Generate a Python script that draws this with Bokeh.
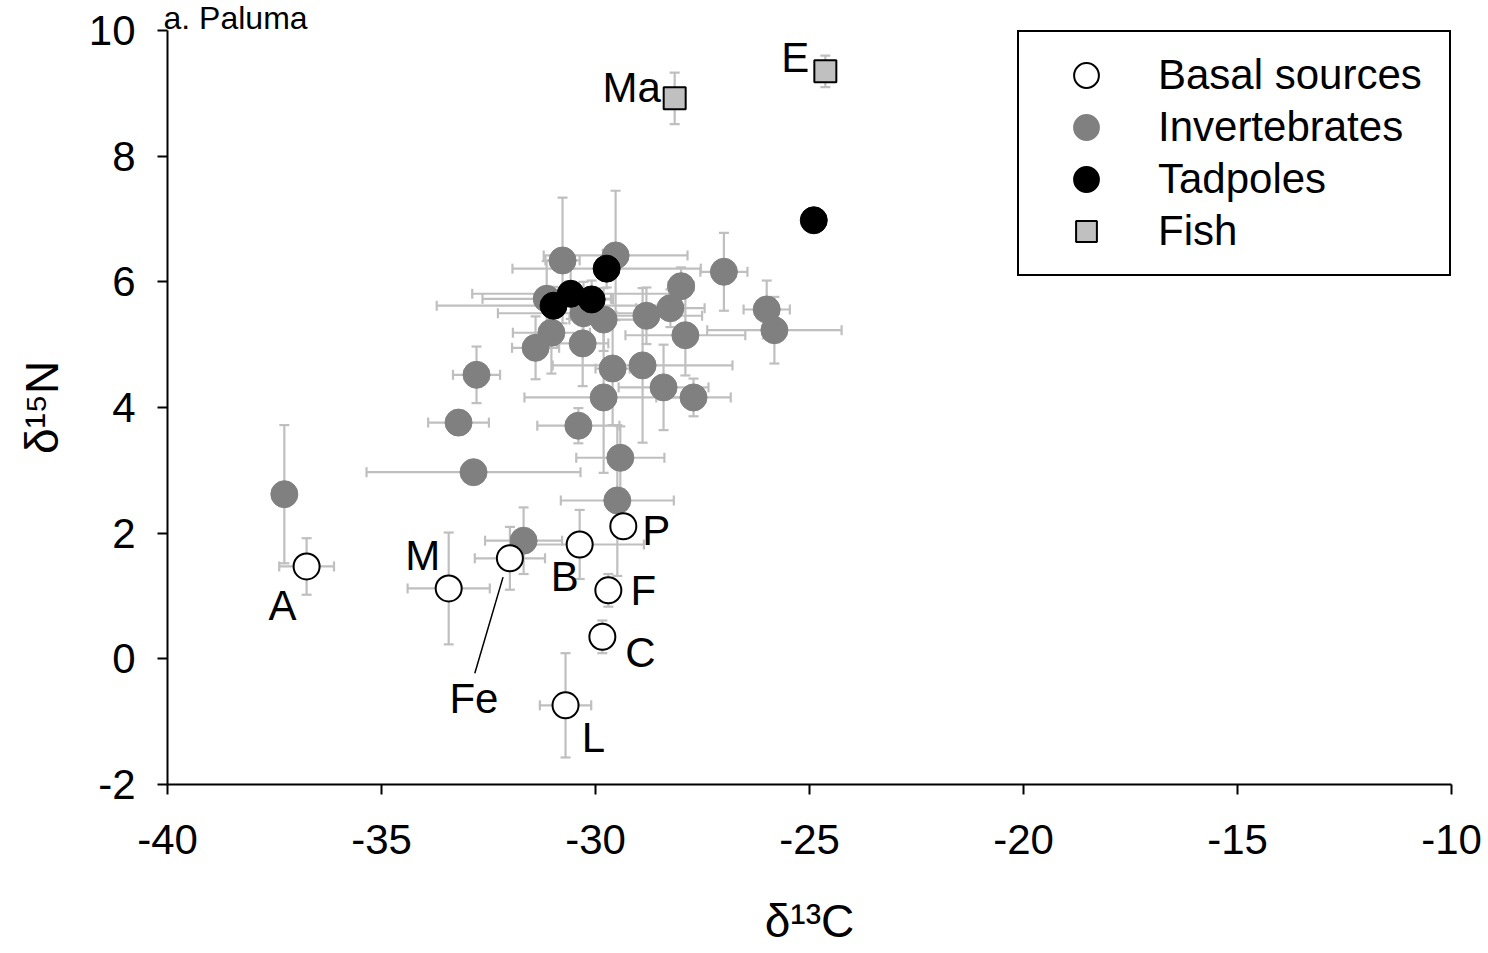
from bokeh.plotting import figure
from bokeh.models import (ColumnDataSource, Whisker, TeeHead, Legend, LegendItem,
                          Title, FixedTicker, Range1d)
from bokeh.core.properties import value
from bokeh.embed import file_html
from bokeh.resources import INLINE

# ---------------- data ----------------
basal_names = ["A", "M", "Fe", "B", "P", "F", "C", "L"]
basal_x = [-36.75, -33.43, -32.0, -30.37, -29.35, -29.7, -29.84, -30.7]
basal_y = [1.47, 1.12, 1.60, 1.82, 2.11, 1.09, 0.35, -0.74]
basal_xerr = [0.64, 0.96, 0.82, 1.5, 0.15, 0.15, 0.15, 0.6]
basal_yerr = [0.45, 0.89, 0.50, 0.55, 0.15, 0.26, 0.26, 0.83]

fish_names = ["Ma", "E"]
fish_x = [-28.15, -24.63]
fish_y = [8.92, 9.35]
fish_xerr = [0.1, 0.1]
fish_yerr = [0.41, 0.25]

tad_x = [-24.9, -29.74, -30.58, -30.98, -30.09]
tad_y = [6.98, 6.21, 5.81, 5.62, 5.72]
tad_xerr = [0.05, 2.2, 2.3, 2.73, 0.5]
tad_yerr = [0.05, 0.3, 0.4, 0.3, 0.3]

inv_x = [-37.27, -33.2, -32.78, -32.85, -31.68, -30.4, -29.42, -29.49, -31.4, -31.03,
         -30.3, -29.81, -28.81, -28.25, -27.9, -29.6, -28.9, -28.41, -27.71, -29.81,
         -30.77, -29.53, -27.0, -28.0, -26.0, -25.82, -31.14, -30.28]
inv_y = [2.62, 3.76, 4.52, 2.97, 1.88, 3.71, 3.20, 2.52, 4.95, 5.19,
         5.02, 5.40, 5.46, 5.58, 5.15, 4.62, 4.67, 4.32, 4.16, 4.16,
         6.34, 6.42, 6.16, 5.93, 5.56, 5.23, 5.73, 5.50]
inv_xerr = [0.1, 0.71, 0.55, 2.5, 0.9, 0.96, 1.03, 1.32, 0.55, 0.9,
            0.6, 0.8, 1.3, 0.8, 1.4, 0.4, 2.1, 1.05, 0.87, 1.85,
            0.4, 1.68, 0.55, 0.3, 0.54, 1.57, 1.5, 2.0]
inv_yerr = [1.1, 0.15, 0.45, 0.1, 0.53, 0.28, 0.5, 1.2, 0.5, 0.65,
            0.68, 0.5, 0.45, 0.3, 0.64, 0.9, 1.23, 0.68, 0.3, 1.2,
            1.0, 1.03, 0.62, 0.3, 0.46, 0.53, 0.6, 0.5]

x_ticks = [-40, -35, -30, -25, -20, -15, -10]
y_ticks = [-2, 0, 2, 4, 6, 8, 10]

legend_labels = ["Basal sources", "Invertebrates", "Tadpoles", "Fish"]
x_title = "δ¹³C"
y_title = "δ¹⁵N"
plot_title = "a. Paluma"

# label layout (pixel offsets of text baseline-centre from the point)
basal_label_dx = [-24, -26, -36, -15, 33, 35, 38, 28]
basal_label_dy = [39, -33, 140, 32, 4, 0, 16, 32]
fish_label_dx = [-43, -30]
fish_label_dy = [-11, -14]

FONT = "Liberation Sans"
ERR = "#bfbfbf"
GRAY = "#808080"

p = figure(width=1488, height=953, output_backend="svg", toolbar_location=None,
           x_range=Range1d(-40, -10), y_range=Range1d(-2, 10),
           min_border_left=167, min_border_right=37, min_border_top=30, min_border_bottom=169)
p.outline_line_color = None
p.xgrid.grid_line_color = None
p.ygrid.grid_line_color = None
p.background_fill_color = "white"
p.border_fill_color = "white"

# title in the narrow top border
p.title = Title(text=plot_title, text_font=FONT, text_font_size="32px",
                text_font_style="normal", text_color="black", align="left",
                offset=-4, standoff=-10)

for ax, ticks in ((p.xaxis, x_ticks), (p.yaxis, y_ticks)):
    ax.ticker = FixedTicker(ticks=ticks)
    ax.major_label_overrides = {t: str(t) for t in ticks}
    ax.minor_tick_line_color = None
    ax.major_tick_in = 0
    ax.major_tick_out = 10
    ax.major_tick_line_width = 2
    ax.major_tick_line_color = "black"
    ax.axis_line_width = 2
    ax.axis_line_color = "black"
    ax.major_label_text_font = FONT
    ax.major_label_text_font_size = "42px"
    ax.major_label_text_color = "black"
    ax.axis_label_text_font = FONT
    ax.axis_label_text_font_size = "46px"
    ax.axis_label_text_font_style = "normal"
    ax.axis_label_text_color = "black"
p.xaxis.major_label_standoff = 30
p.yaxis.major_label_standoff = 22
p.xaxis.axis_label = x_title
p.yaxis.axis_label = y_title
p.xaxis.axis_label_standoff = 38
p.yaxis.axis_label_standoff = 18


def add_err(x, y, xerr, yerr):
    src = ColumnDataSource(dict(
        x=x, y=y,
        xl=[a - b for a, b in zip(x, xerr)], xu=[a + b for a, b in zip(x, xerr)],
        yl=[a - b for a, b in zip(y, yerr)], yu=[a + b for a, b in zip(y, yerr)]))
    for dim, base, lo, up in (("width", "y", "xl", "xu"), ("height", "x", "yl", "yu")):
        w = Whisker(source=src, dimension=dim, base=base, lower=lo, upper=up,
                    line_color=ERR, line_width=2.2, level="underlay",
                    lower_head=TeeHead(size=10, line_color=ERR, line_width=2.2),
                    upper_head=TeeHead(size=10, line_color=ERR, line_width=2.2))
        p.add_layout(w)


add_err(inv_x, inv_y, inv_xerr, inv_yerr)
add_err(tad_x, tad_y, tad_xerr, tad_yerr)
add_err(basal_x, basal_y, basal_xerr, basal_yerr)
add_err(fish_x, fish_y, fish_xerr, fish_yerr)

r_inv = p.scatter(inv_x, inv_y, marker="circle", size=27, fill_color=GRAY,
                  line_color=GRAY, line_width=1)
r_tad = p.scatter(tad_x, tad_y, marker="circle", size=27, fill_color="black",
                  line_color="black", line_width=1)
r_basal = p.scatter(basal_x, basal_y, marker="circle", size=26, fill_color="white",
                    line_color="black", line_width=2)
r_fish = p.scatter(fish_x, fish_y, marker="square", size=22, fill_color="#c0c0c0",
                   line_color="black", line_width=2)

# leader line for Fe
fe = basal_names.index("Fe")
p.segment(x0=[basal_x[fe] - 0.82], y0=[basal_y[fe] - 1.83],
          x1=[basal_x[fe] - 0.16], y1=[basal_y[fe] - 0.30],
          line_color="black", line_width=1.5)

p.text(x=basal_x, y=basal_y, text=basal_names, x_offset=basal_label_dx, y_offset=basal_label_dy,
       text_font=value(FONT), text_font_size="42px", text_align="center",
       text_baseline="alphabetic", text_color="black")
p.text(x=fish_x, y=fish_y, text=fish_names, x_offset=fish_label_dx, y_offset=fish_label_dy,
       text_font=value(FONT), text_font_size="42px", text_align="center",
       text_baseline="alphabetic", text_color="black")

# legend swatches: proxy renderers holding a single undrawn (NaN) point,
# styled so that the key matches the original key size
nan = float("nan")


def proxy(marker, fill, line, lw):
    return p.scatter("x", "y", source=ColumnDataSource(dict(x=[nan], y=[nan])),
                     marker=marker, fill_color=fill, line_color=line, line_width=lw)


k_basal_outer = proxy("circle", "black", "black", 6)
k_basal_inner = proxy("circle", "white", "white", 2)
k_inv = proxy("circle", GRAY, GRAY, 6)
k_tad = proxy("circle", "black", "black", 6)
k_fish = proxy("square", "#c0c0c0", "black", 2)

legend = Legend(items=[LegendItem(label=legend_labels[0], renderers=[k_basal_outer, k_basal_inner]),
                       LegendItem(label=legend_labels[1], renderers=[k_inv]),
                       LegendItem(label=legend_labels[2], renderers=[k_tad]),
                       LegendItem(label=legend_labels[3], renderers=[k_fish])],
                location="top_right", margin=0, padding=17, spacing=0,
                glyph_width=100, glyph_height=52, label_standoff=22, label_width=274,
                label_height=52,
                label_text_font=FONT, label_text_font_size="42px", label_text_color="black",
                border_line_color="black", border_line_width=2, border_line_alpha=1,
                background_fill_color="white", background_fill_alpha=1)
p.add_layout(legend)

open("out.html", "w").write(file_html(p, INLINE))
